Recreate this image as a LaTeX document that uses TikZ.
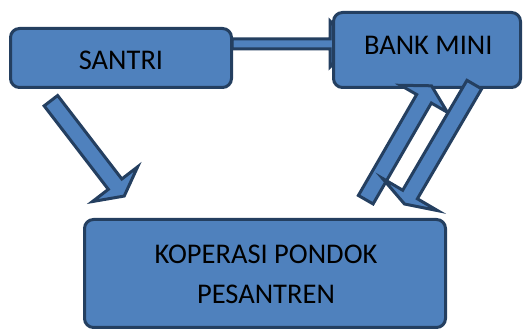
\documentclass[tikz,border=0pt]{standalone}
\usepackage{fontspec}
\setmainfont{Carlito}
\usetikzlibrary{calc}
\definecolor{boxfill}{HTML}{4F81BD}
\definecolor{boxline}{HTML}{243F60}
\tikzset{
  box/.style={draw=boxline, fill=boxfill, line width=3pt, rounded corners=9pt, inner sep=0pt, outer sep=0pt},
  arr/.style={draw=boxline, fill=boxfill, line width=3pt, line join=miter},
  lbl/.style={inner sep=0pt, font=\fontsize{28.5}{40}\selectfont, anchor=base, align=center}
}
% block arrow: tail, tip, half shaft width, half head width, head length
\newcommand\blockarrow[5]{%
  \draw[arr] let \p1=(#1), \p2=(#2),
    \n1={atan2(\y2-\y1,\x2-\x1)}, \n2={veclen(\x2-\x1,\y2-\y1)} in
    [shift={(\p1)}, rotate=\n1]
    (0pt,#3pt) -- (\n2-#5pt,#3pt) -- (\n2-#5pt,#4pt) -- (\n2+0pt,0pt)
    -- (\n2-#5pt,-#4pt) -- (\n2-#5pt,-#3pt) -- (0pt,-#3pt) -- cycle;}
\begin{document}
\begin{tikzpicture}[x=1pt,y=-1pt]
\useasboundingbox (0,0) rectangle (523,331);
% arrow coordinates
\coordinate (a2s) at (232,44);
\coordinate (a2e) at (352,44);
\coordinate (a1s) at (50.9,100.7);
\coordinate (a1e) at (124.4,196.3);
\coordinate (a3s) at (365.75,199.7);
\coordinate (a3e) at (431.5,85.8);
\coordinate (a4s) at (474.3,84.6);
\coordinate (a4e) at (404.5,204);
% SANTRI -> BANK MINI (behind the boxes)
\blockarrow{a2s}{a2e}{5}{23}{22}
% boxes
\node[box, minimum width=221pt, minimum height=59pt] (santri) at (121,58) {};
\node[box, minimum width=187pt, minimum height=75pt] (bank) at (427,50) {};
\node[box, minimum width=361pt, minimum height=108pt] (kop) at (265,273.5) {};
% other arrows
\blockarrow{a1s}{a1e}{8.5}{28.5}{15}
\blockarrow{a3s}{a3e}{8.5}{27}{15}
\blockarrow{a4s}{a4e}{8.5}{32}{11}
% labels
\node[lbl] (santri-t) at (121,70) {SANTRI};
\node[lbl] (bank-t) at (428.3,55) {BANK MINI};
\node[lbl] (kop-t) at (266,303.3) {KOPERASI PONDOK\\PESANTREN};
\end{tikzpicture}
\end{document}
